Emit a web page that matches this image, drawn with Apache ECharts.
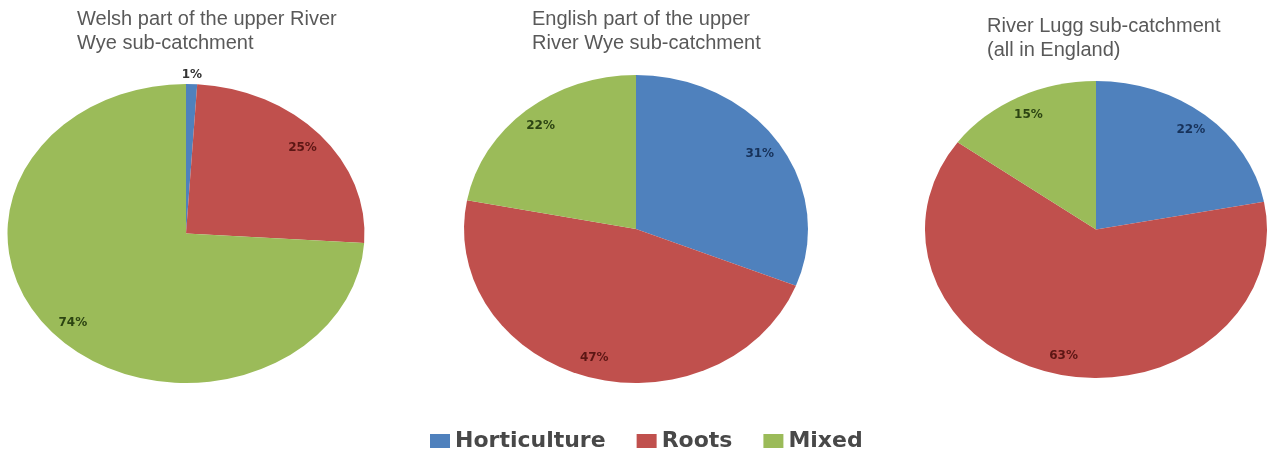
<!DOCTYPE html>
<html>
<head>
<meta charset="utf-8">
<script src="https://cdn.jsdelivr.net/npm/echarts@6/dist/echarts.min.js"></script>
<style>
  html, body { margin: 0; padding: 0; background: #ffffff; }
  #chart { width: 1269px; height: 455px; }
</style>
</head>
<body>
<div id="chart"></div>
<script>
// Farm types and their share (%) of holdings in each catchment area
const categories = ['Horticulture', 'Roots', 'Mixed'];
const pieTitles = [
  'Welsh part of the upper River\nWye sub-catchment',
  'English part of the upper\nRiver Wye sub-catchment',
  'River Lugg sub-catchment\n(all in England)'
];
const welshWye = [1, 25, 74];
const englishWye = [31, 47, 22];
const riverLugg = [22, 63, 15];

const pieShares = [welshWye, englishWye, riverLugg];

// Layout of each (slightly elliptical) pie and its heading
const pieLayout = [
  { cx: 186, cy: 233.5, rx: 178.5, ry: 149.5, titleLeft: 77, titleTop: 7 },
  { cx: 636, cy: 229, rx: 172, ry: 154, titleLeft: 532, titleTop: 7 },
  { cx: 1096, cy: 229.5, rx: 171, ry: 148.5, titleLeft: 987, titleTop: 14 }
];
const sliceColors = ['#4f81bd', '#c0504d', '#9bbb59'];
const labelColors = ['#17325a', '#5c1614', '#2c4412'];

// Each category is one series; it draws its slice in every pie,
// starting where the preceding categories of that pie end.
function makeRenderer(k) {
  return function (params, api) {
    const p = api.value(0);
    const share = api.value(1);
    const shares = pieShares[p];
    const total = shares.reduce((a, b) => a + b, 0);
    let before = 0;
    for (let i = 0; i < k; i++) before += shares[i];
    const L = pieLayout[p];
    const a0 = -Math.PI / 2 + before / total * 2 * Math.PI;
    const a1 = -Math.PI / 2 + (before + share) / total * 2 * Math.PI;
    const mid = (a0 + a1) / 2;
    const outside = share / total < 0.05;
    const f = outside ? 1.06 : 0.87;
    return {
      type: 'group',
      children: [
        {
          type: 'sector',
          x: L.cx,
          y: L.cy,
          scaleX: L.rx / L.ry,
          shape: { cx: 0, cy: 0, r0: 0, r: L.ry, startAngle: a0, endAngle: a1, clockwise: true },
          style: { fill: sliceColors[k] }
        },
        {
          type: 'text',
          z2: 10,
          x: L.cx + Math.cos(mid) * L.rx * f,
          y: L.cy + Math.sin(mid) * L.ry * f,
          style: {
            text: Math.round(share / total * 100) + '%',
            fill: outside ? '#333333' : labelColors[k],
            fontFamily: 'DejaVu Sans',
            fontWeight: 'bold',
            fontSize: 12,
            align: 'center',
            verticalAlign: 'middle'
          }
        }
      ]
    };
  };
}

const chart = echarts.init(document.getElementById('chart'), null, { renderer: 'canvas' });

chart.setOption({
  animation: false,
  backgroundColor: '#ffffff',
  title: pieLayout.map((L, p) => ({
    text: pieTitles[p],
    left: L.titleLeft,
    top: L.titleTop,
    padding: 0,
    textStyle: {
      fontFamily: 'Liberation Sans',
      fontSize: 20,
      fontWeight: 'normal',
      color: '#595959',
      lineHeight: 24
    }
  })),
  legend: {
    data: categories,
    left: 430,
    top: 430,
    padding: 0,
    itemGap: 31,
    itemWidth: 20,
    itemHeight: 14,
    icon: 'rect',
    textStyle: {
      fontFamily: 'DejaVu Sans',
      fontWeight: 'bold',
      fontSize: 22,
      color: '#484848',
      lineHeight: 20
    }
  },
  series: categories.map((name, k) => ({
    type: 'custom',
    name: name,
    coordinateSystem: 'none',
    itemStyle: { color: sliceColors[k] },
    data: pieShares.map((s, p) => [p, s[k]]),
    renderItem: makeRenderer(k)
  }))
});
</script>
</body>
</html>
